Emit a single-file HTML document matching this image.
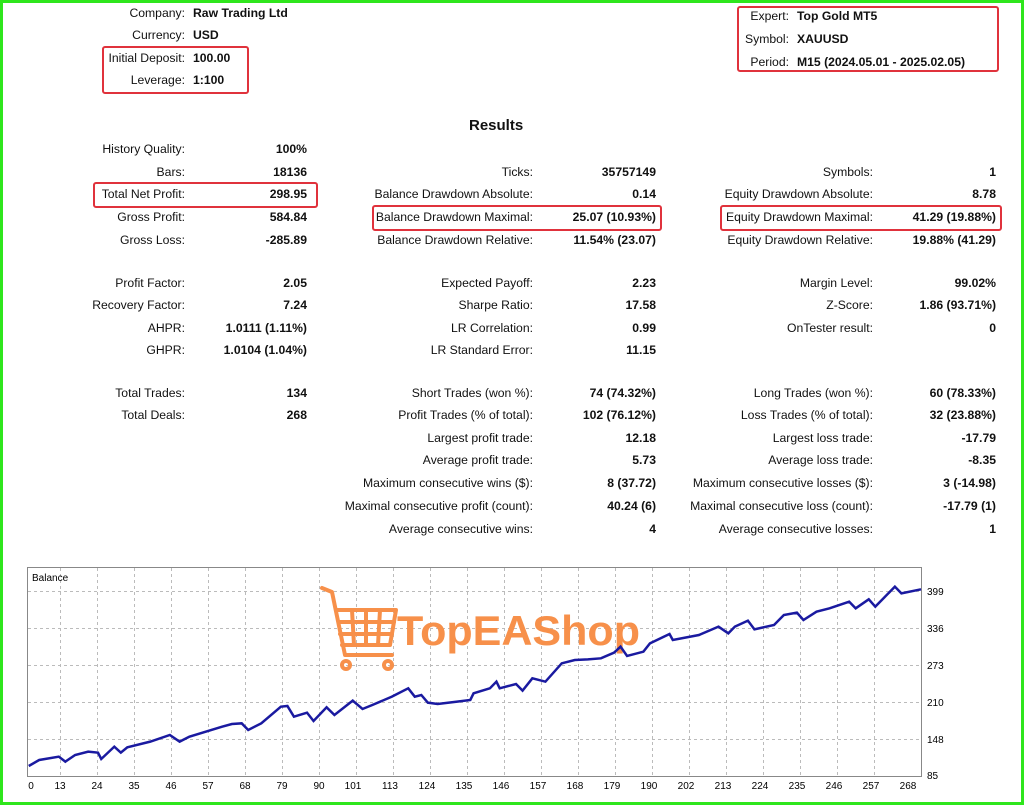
<!DOCTYPE html>
<html><head><meta charset="utf-8"><style>
html,body{margin:0;padding:0}
body{width:1024px;height:805px;position:relative;background:#fff;font-family:"Liberation Sans",sans-serif;overflow:hidden}
#frame{position:absolute;left:0;top:0;width:1018px;height:799px;border:3px solid #2fe61c}
.l,.v,.r{position:absolute;font-size:12.2px;color:#111;white-space:nowrap;line-height:14px}
.l{text-align:right}
.v{font-weight:bold;text-align:right}
.r{font-weight:bold}
.box{position:absolute;border:2px solid #e0323c;border-radius:3px}
</style></head><body>
<div id="frame"></div>
<div class="box" style="left:102px;top:46px;width:143px;height:44px"></div>
<div class="box" style="left:737px;top:6px;width:258px;height:62px"></div>
<div class="box" style="left:93px;top:182px;width:221px;height:22px"></div>
<div class="box" style="left:372px;top:205px;width:286px;height:22px"></div>
<div class="box" style="left:720px;top:205px;width:278px;height:22px"></div>

<div class="l" style="right:839px;top:6px">Company:</div><div class="r" style="left:193px;top:6px">Raw Trading Ltd</div>
<div class="l" style="right:839px;top:28px">Currency:</div><div class="r" style="left:193px;top:28px">USD</div>
<div class="l" style="right:839px;top:51px">Initial Deposit:</div><div class="r" style="left:193px;top:51px">100.00</div>
<div class="l" style="right:839px;top:73px">Leverage:</div><div class="r" style="left:193px;top:73px">1:100</div>

<div class="l" style="right:235px;top:9px">Expert:</div><div class="r" style="left:797px;top:9px">Top Gold MT5</div>
<div class="l" style="right:235px;top:32px">Symbol:</div><div class="r" style="left:797px;top:32px">XAUUSD</div>
<div class="l" style="right:235px;top:55px">Period:</div><div class="r" style="left:797px;top:55px">M15 (2024.05.01 - 2025.02.05)</div>

<div class="r" style="left:469px;top:117px;font-size:15px;line-height:18px">Results</div>

<div class="l" style="right:839px;top:142px">History Quality:</div><div class="v" style="right:717px;top:142px">100%</div>
<div class="l" style="right:839px;top:165px">Bars:</div><div class="v" style="right:717px;top:165px">18136</div>
<div class="l" style="right:839px;top:187px">Total Net Profit:</div><div class="v" style="right:717px;top:187px">298.95</div>
<div class="l" style="right:839px;top:210px">Gross Profit:</div><div class="v" style="right:717px;top:210px">584.84</div>
<div class="l" style="right:839px;top:233px">Gross Loss:</div><div class="v" style="right:717px;top:233px">-285.89</div>
<div class="l" style="right:839px;top:276px">Profit Factor:</div><div class="v" style="right:717px;top:276px">2.05</div>
<div class="l" style="right:839px;top:298px">Recovery Factor:</div><div class="v" style="right:717px;top:298px">7.24</div>
<div class="l" style="right:839px;top:321px">AHPR:</div><div class="v" style="right:717px;top:321px">1.0111 (1.11%)</div>
<div class="l" style="right:839px;top:343px">GHPR:</div><div class="v" style="right:717px;top:343px">1.0104 (1.04%)</div>
<div class="l" style="right:839px;top:386px">Total Trades:</div><div class="v" style="right:717px;top:386px">134</div>
<div class="l" style="right:839px;top:408px">Total Deals:</div><div class="v" style="right:717px;top:408px">268</div>

<div class="l" style="right:491px;top:165px">Ticks:</div><div class="v" style="right:368px;top:165px">35757149</div>
<div class="l" style="right:491px;top:187px">Balance Drawdown Absolute:</div><div class="v" style="right:368px;top:187px">0.14</div>
<div class="l" style="right:491px;top:210px">Balance Drawdown Maximal:</div><div class="v" style="right:368px;top:210px">25.07 (10.93%)</div>
<div class="l" style="right:491px;top:233px">Balance Drawdown Relative:</div><div class="v" style="right:368px;top:233px">11.54% (23.07)</div>
<div class="l" style="right:491px;top:276px">Expected Payoff:</div><div class="v" style="right:368px;top:276px">2.23</div>
<div class="l" style="right:491px;top:298px">Sharpe Ratio:</div><div class="v" style="right:368px;top:298px">17.58</div>
<div class="l" style="right:491px;top:321px">LR Correlation:</div><div class="v" style="right:368px;top:321px">0.99</div>
<div class="l" style="right:491px;top:343px">LR Standard Error:</div><div class="v" style="right:368px;top:343px">11.15</div>
<div class="l" style="right:491px;top:386px">Short Trades (won %):</div><div class="v" style="right:368px;top:386px">74 (74.32%)</div>
<div class="l" style="right:491px;top:408px">Profit Trades (% of total):</div><div class="v" style="right:368px;top:408px">102 (76.12%)</div>
<div class="l" style="right:491px;top:431px">Largest profit trade:</div><div class="v" style="right:368px;top:431px">12.18</div>
<div class="l" style="right:491px;top:453px">Average profit trade:</div><div class="v" style="right:368px;top:453px">5.73</div>
<div class="l" style="right:491px;top:476px">Maximum consecutive wins ($):</div><div class="v" style="right:368px;top:476px">8 (37.72)</div>
<div class="l" style="right:491px;top:499px">Maximal consecutive profit (count):</div><div class="v" style="right:368px;top:499px">40.24 (6)</div>
<div class="l" style="right:491px;top:522px">Average consecutive wins:</div><div class="v" style="right:368px;top:522px">4</div>

<div class="l" style="right:151px;top:165px">Symbols:</div><div class="v" style="right:28px;top:165px">1</div>
<div class="l" style="right:151px;top:187px">Equity Drawdown Absolute:</div><div class="v" style="right:28px;top:187px">8.78</div>
<div class="l" style="right:151px;top:210px">Equity Drawdown Maximal:</div><div class="v" style="right:28px;top:210px">41.29 (19.88%)</div>
<div class="l" style="right:151px;top:233px">Equity Drawdown Relative:</div><div class="v" style="right:28px;top:233px">19.88% (41.29)</div>
<div class="l" style="right:151px;top:276px">Margin Level:</div><div class="v" style="right:28px;top:276px">99.02%</div>
<div class="l" style="right:151px;top:298px">Z-Score:</div><div class="v" style="right:28px;top:298px">1.86 (93.71%)</div>
<div class="l" style="right:151px;top:321px">OnTester result:</div><div class="v" style="right:28px;top:321px">0</div>
<div class="l" style="right:151px;top:386px">Long Trades (won %):</div><div class="v" style="right:28px;top:386px">60 (78.33%)</div>
<div class="l" style="right:151px;top:408px">Loss Trades (% of total):</div><div class="v" style="right:28px;top:408px">32 (23.88%)</div>
<div class="l" style="right:151px;top:431px">Largest loss trade:</div><div class="v" style="right:28px;top:431px">-17.79</div>
<div class="l" style="right:151px;top:453px">Average loss trade:</div><div class="v" style="right:28px;top:453px">-8.35</div>
<div class="l" style="right:151px;top:476px">Maximum consecutive losses ($):</div><div class="v" style="right:28px;top:476px">3 (-14.98)</div>
<div class="l" style="right:151px;top:499px">Maximal consecutive loss (count):</div><div class="v" style="right:28px;top:499px">-17.79 (1)</div>
<div class="l" style="right:151px;top:522px">Average consecutive losses:</div><div class="v" style="right:28px;top:522px">1</div>

<svg style="position:absolute;left:0;top:0" width="1024" height="805" xmlns="http://www.w3.org/2000/svg">
<rect x="27.5" y="567.5" width="894" height="209" fill="#fff" stroke="#888"/>
<g stroke="#bbb" stroke-dasharray="3,3" stroke-width="1">
<line x1="28" y1="591.5" x2="921" y2="591.5"/><line x1="28" y1="628.5" x2="921" y2="628.5"/><line x1="28" y1="665.5" x2="921" y2="665.5"/><line x1="28" y1="702.5" x2="921" y2="702.5"/><line x1="28" y1="739.5" x2="921" y2="739.5"/>
<line x1="60.5" y1="568" x2="60.5" y2="776"/><line x1="97.5" y1="568" x2="97.5" y2="776"/><line x1="134.5" y1="568" x2="134.5" y2="776"/><line x1="171.5" y1="568" x2="171.5" y2="776"/><line x1="208.5" y1="568" x2="208.5" y2="776"/><line x1="245.5" y1="568" x2="245.5" y2="776"/><line x1="282.5" y1="568" x2="282.5" y2="776"/><line x1="319.5" y1="568" x2="319.5" y2="776"/><line x1="356.5" y1="568" x2="356.5" y2="776"/><line x1="393.5" y1="568" x2="393.5" y2="776"/><line x1="430.5" y1="568" x2="430.5" y2="776"/><line x1="467.5" y1="568" x2="467.5" y2="776"/><line x1="504.5" y1="568" x2="504.5" y2="776"/><line x1="541.5" y1="568" x2="541.5" y2="776"/><line x1="578.5" y1="568" x2="578.5" y2="776"/><line x1="615.5" y1="568" x2="615.5" y2="776"/><line x1="652.5" y1="568" x2="652.5" y2="776"/><line x1="689.5" y1="568" x2="689.5" y2="776"/><line x1="726.5" y1="568" x2="726.5" y2="776"/><line x1="763.5" y1="568" x2="763.5" y2="776"/><line x1="800.5" y1="568" x2="800.5" y2="776"/><line x1="837.5" y1="568" x2="837.5" y2="776"/><line x1="874.5" y1="568" x2="874.5" y2="776"/>
</g>
<text x="32" y="581" font-family="Liberation Sans,sans-serif" font-size="10" fill="#000">Balance</text>
<g fill="none" stroke="#f7904a" stroke-width="4" stroke-linecap="round" stroke-linejoin="round">
<path d="M322,588 L332,592 L345,655 L392,655"/>
<path d="M336,610 L396,610 L390,645 L342,645"/>
<path d="M339,622 L394,622 M340,634 L392,634 M352,610 L354,645 M366,610 L366,645 M380,610 L378,645"/>
<circle cx="346" cy="665" r="4"/><circle cx="388" cy="665" r="4"/>
</g>
<text x="397" y="645" font-family="Liberation Sans,sans-serif" font-weight="bold" font-size="42" fill="#f7904a" textLength="243" lengthAdjust="spacingAndGlyphs">TopEAShop</text>
<g transform="translate(0,560) scale(0.6532,0.3333)">
<polyline fill="none" stroke="#1a1aa0" stroke-width="2.5" vector-effect="non-scaling-stroke" points="44,618 60,600 90,590 100,605 115,585 135,575 150,578 155,597 175,560 185,578 195,562 230,545 260,525 275,545 290,530 340,500 355,492 370,490 380,510 400,490 430,440 440,438 450,470 470,458 480,483 500,442 512,465 540,422 555,447 570,435 600,410 625,385 635,410 645,405 655,428 670,432 700,425 720,420 725,400 750,385 760,365 765,385 790,372 800,392 815,355 835,365 860,310 880,300 900,298 920,295 940,278 950,260 960,288 985,275 995,250 1025,222 1030,240 1070,225 1100,200 1115,220 1125,200 1145,182 1155,208 1185,195 1200,165 1220,158 1230,180 1250,155 1270,145 1300,125 1310,145 1330,118 1340,140 1350,120 1370,80 1380,100 1410,88"/>
</g>
<g font-family="Liberation Sans,sans-serif" font-size="10" fill="#000">
<text x="927" y="595">399</text><text x="927" y="632">336</text><text x="927" y="669">273</text><text x="927" y="706">210</text><text x="927" y="743">148</text><text x="927" y="779">85</text>
</g>
<g font-family="Liberation Sans,sans-serif" font-size="10" fill="#000" text-anchor="middle">
<text x="31" y="789">0</text><text x="60" y="789">13</text><text x="97" y="789">24</text><text x="134" y="789">35</text><text x="171" y="789">46</text><text x="208" y="789">57</text><text x="245" y="789">68</text><text x="282" y="789">79</text><text x="319" y="789">90</text><text x="353" y="789">101</text><text x="390" y="789">113</text><text x="427" y="789">124</text><text x="464" y="789">135</text><text x="501" y="789">146</text><text x="538" y="789">157</text><text x="575" y="789">168</text><text x="612" y="789">179</text><text x="649" y="789">190</text><text x="686" y="789">202</text><text x="723" y="789">213</text><text x="760" y="789">224</text><text x="797" y="789">235</text><text x="834" y="789">246</text><text x="871" y="789">257</text><text x="908" y="789">268</text>
</g>
</svg>
</body></html>
